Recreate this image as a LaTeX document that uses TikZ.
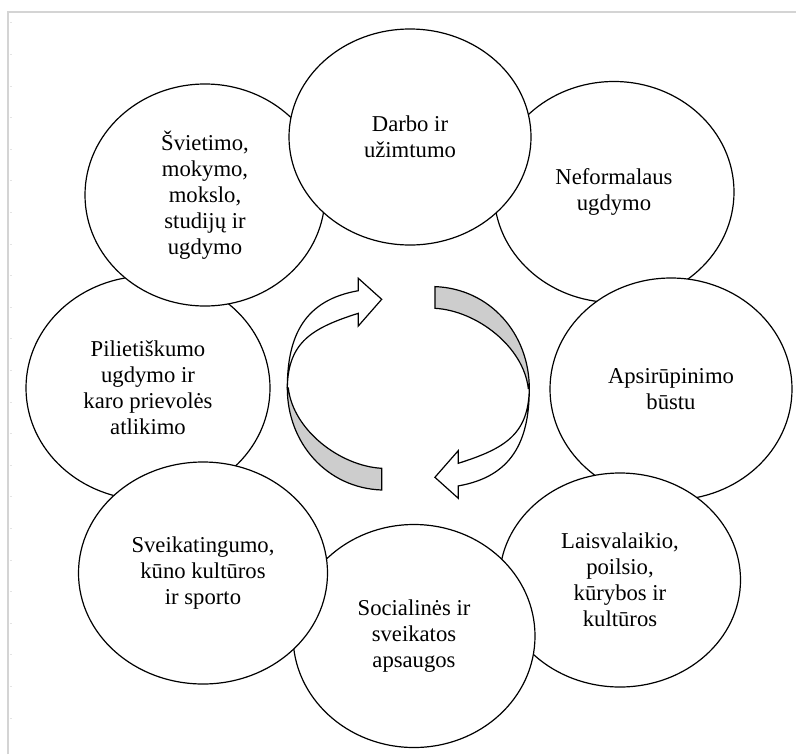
\documentclass[tikz,border=0pt]{standalone}
\usepackage{fontspec}
\setmainfont{Liberation Serif}
\usetikzlibrary{shapes.geometric}
\definecolor{ribbongray}{RGB}{205,205,205}
\definecolor{framegray}{RGB}{212,212,212}
\definecolor{tickgray}{RGB}{228,228,228}
\begin{document}
\begin{tikzpicture}[x=0.75pt,y=-0.75pt,
  area/.style={ellipse, draw=black, line width=0.9pt, fill=white, inner sep=0pt,
    align=center, font=\fontsize{17}{19.5}\selectfont},
  ribbonwhite/.style={draw=black, line width=0.9pt, fill=white, line join=miter},
  ribbonback/.style={draw=black, line width=0.9pt, fill=ribbongray, line join=miter}]
\useasboundingbox (0,0) rectangle (796,754);
% page frame
\draw[framegray, line width=1.5pt] (8,754) -- (8,12) -- (796,12);
\foreach \k in {0,...,22} \draw[tickgray, line width=0.6pt] (9.5,22.7+31.6*\k) -- (11.5,22.7+31.6*\k);
% ellipses (order gives the overlaps)
\node[area, minimum width=183pt, minimum height=168pt] (pil) at (148,388)
  {Pilietiškumo\\ugdymo ir\\karo prievolės\\atlikimo};
\node[area, minimum width=180pt, minimum height=166.5pt] (svi) at (205,195)
  {Švietimo,\\mokymo,\\mokslo,\\studijų ir\\ugdymo};
\node[area, minimum width=180pt, minimum height=165.75pt] (nef) at (614,192)
  {Neformalaus\\ugdymo};
\node[area, minimum width=181.5pt, minimum height=162pt] (dar) at (410,137)
  {Darbo ir\\užimtumo};
\node[area, minimum width=181.5pt, minimum height=166.5pt] (aps) at (671,389)
  {Apsirūpinimo\\būstu};
\node[area, minimum width=180.75pt, minimum height=160.5pt] (lai) at (620,580)
  {Laisvalaikio,\\poilsio,\\kūrybos ir\\kultūros};
\node[area, minimum width=181.5pt, minimum height=167.25pt] (soc) at (414,636)
  {Socialinės ir\\sveikatos\\apsaugos};
\node[area, minimum width=186.75pt, minimum height=166.5pt] (sve) at (203,573)
  {Sveikatingumo,\\kūno kultūros\\ir sporto};
% circular arrows (the second is the first turned half round the middle)
\foreach \turn in {0,180}{
\begin{scope}[rotate around={\turn:(408.3,388.3)}]
\path[ribbonback] (287.3,388) .. controls (287.3,443) and (326.7,488) .. (381.7,490)
  -- (381.7,468.3) .. controls (340,466) and (293,430) .. (288.3,388) -- cycle;
\path[ribbonwhite] (381.7,299.3) -- (358.3,278.3) -- (358.3,290.7)
  .. controls (305,300) and (287.3,335) .. (287.3,388)
  .. controls (288,342) and (312,328) .. (358.3,313.3)
  -- (358.3,326) -- cycle;
\end{scope}}
\end{tikzpicture}
\end{document}
